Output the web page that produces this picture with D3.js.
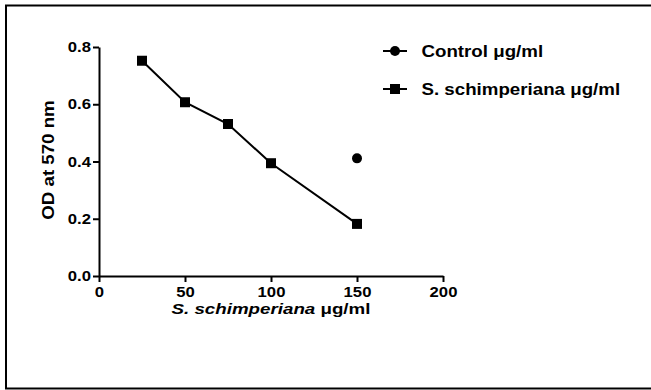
<!DOCTYPE html>
<html>
<head>
<meta charset="utf-8">
<script src="https://cdn.jsdelivr.net/npm/d3@7"></script>
<style>
  body { margin: 0; background: #fff; }
  svg text { font-family: "Liberation Sans", Arial, sans-serif; font-weight: bold; fill: #000; }
</style>
</head>
<body>
<div id="chart"></div>
<script>
// data
const concentrations = [25, 50, 75, 100, 150];
const extractOD = [0.752, 0.607, 0.531, 0.394, 0.182];
const controlX = [150];
const controlOD = [0.411];
const xTicks = [0, 50, 100, 150, 200];
const yTicks = [0, 0.2, 0.4, 0.6, 0.8];
const seriesNames = ["Control \u03bcg/ml", "S. schimperiana \u03bcg/ml"];

const width = 651, height = 390;
const margin = { top: 47, right: 208, bottom: 114, left: 99 };

// the original font runs a bit wider than Liberation Sans, so stretch text horizontally
const stretch = (sel, sx) => sel.each(function () {
    const t = d3.select(this);
    const x0 = +(t.attr("x") || 0);
    t.attr("x", x0 / sx).attr("transform", "scale(" + sx + ",1)");
});

const svg = d3.select("#chart").append("svg")
    .attr("width", width)
    .attr("height", height);

// outer frame (right edge falls off the picture)
svg.append("rect")
    .attr("x", 6).attr("y", 5.5)
    .attr("width", 660).attr("height", 383)
    .attr("fill", "none").attr("stroke", "#000").attr("stroke-width", 2);

const g = svg.append("g")
    .attr("transform", "translate(" + margin.left + "," + margin.top + ")");
const w = width - margin.left - margin.right;   // 344
const h = height - margin.top - margin.bottom;  // 229

const x = d3.scaleLinear().domain([0, 200]).range([0, w]);
const y = d3.scaleLinear().domain([0, 0.8]).range([h, 0]);

// axes
const xAxis = g.append("g")
    .attr("transform", "translate(0," + h + ")")
    .call(d3.axisBottom(x).tickValues(xTicks).tickSize(6).tickSizeOuter(0).tickPadding(5));
const yAxis = g.append("g")
    .call(d3.axisLeft(y).tickValues(yTicks).tickSize(6).tickSizeOuter(0).tickPadding(2)
        .tickFormat(d3.format(".1f")));

[xAxis, yAxis].forEach(a => {
    a.attr("font-family", null).attr("font-size", null);
    a.select(".domain").attr("stroke-width", 2).attr("stroke", "#000");
    a.selectAll(".tick line").attr("stroke-width", 2).attr("stroke", "#000");
    a.selectAll(".tick text").style("font-size", "14.5px");
    stretch(a.selectAll(".tick text"), 1.15);
});

// axis titles
const xt = svg.append("text")
    .attr("x", margin.left + x(100))
    .attr("y", 314)
    .attr("text-anchor", "middle")
    .style("font-size", "15.5px");
xt.append("tspan").style("font-style", "italic").text("S. schimperiana ");
xt.append("tspan").text("\u03bcg/ml");
stretch(xt, 1.21);

svg.append("text")
    .attr("transform", "translate(54,160) rotate(-90) scale(1.1,1)")
    .attr("text-anchor", "middle")
    .style("font-size", "17px")
    .text("OD at 570 nm");

// S. schimperiana line + squares
const line = d3.line()
    .x((d, i) => x(concentrations[i]))
    .y(d => y(d));

g.append("path")
    .datum(extractOD)
    .attr("fill", "none")
    .attr("stroke", "#000")
    .attr("stroke-width", 2)
    .attr("d", line);

const sq = 10;
g.selectAll(".sq")
    .data(extractOD)
    .join("rect")
    .attr("class", "sq")
    .attr("x", (d, i) => x(concentrations[i]) - sq / 2)
    .attr("y", d => y(d) - sq / 2)
    .attr("width", sq).attr("height", sq)
    .attr("fill", "#000");

// control point
g.selectAll(".ctl")
    .data(controlOD)
    .join("circle")
    .attr("class", "ctl")
    .attr("cx", (d, i) => x(controlX[i]))
    .attr("cy", d => y(d))
    .attr("r", 5)
    .attr("fill", "#000");

// legend
const legend = svg.append("g").attr("transform", "translate(383,51)");
const rows = legend.selectAll("g")
    .data(seriesNames)
    .join("g")
    .attr("transform", (d, i) => "translate(0," + i * 38 + ")");

rows.append("line")
    .attr("x1", 0).attr("x2", 24)
    .attr("stroke", "#000").attr("stroke-width", 2);

rows.filter((d, i) => i === 0).append("circle")
    .attr("cx", 12).attr("r", 5).attr("fill", "#000");
rows.filter((d, i) => i === 1).append("rect")
    .attr("x", 12 - sq / 2).attr("y", -sq / 2)
    .attr("width", sq).attr("height", sq).attr("fill", "#000");

const labels = rows.append("text")
    .attr("x", 38.5)
    .attr("dy", "0.36em")
    .style("font-size", "16px")
    .text(d => d);
stretch(labels, 1.17);
</script>
</body>
</html>
